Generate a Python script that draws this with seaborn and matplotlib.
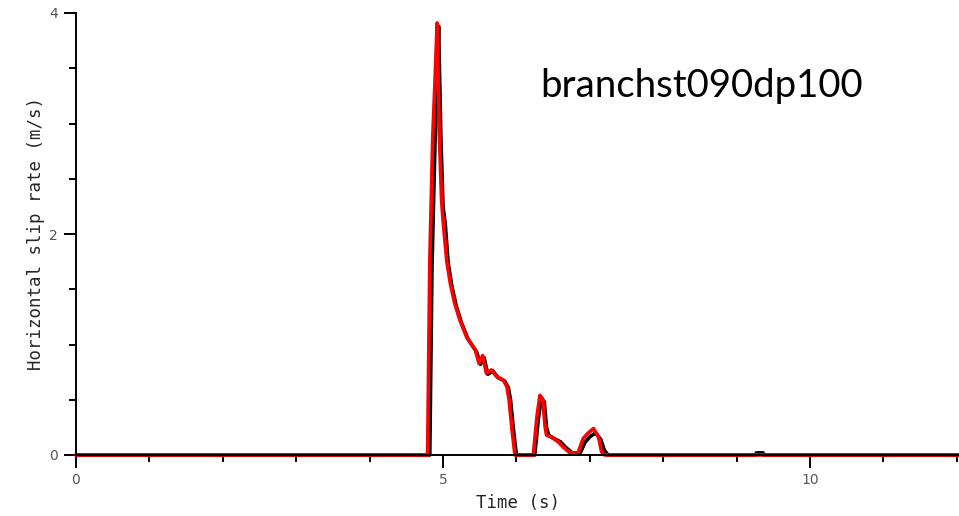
import numpy as np
import pandas as pd
import matplotlib
matplotlib.use("Agg")
import matplotlib.pyplot as plt
import seaborn as sns
from matplotlib.ticker import MultipleLocator

# ---- data ----
t_red = [0.0, 4.79, 4.82, 4.86, 4.89, 4.92, 4.95, 4.98, 5.00, 5.05, 5.10, 5.16, 5.23, 5.32, 5.44,
         5.49, 5.54, 5.59, 5.66, 5.73, 5.82, 5.87, 5.90, 5.94, 5.98, 6.23, 6.28, 6.32, 6.36,
         6.39, 6.41, 6.48, 6.57, 6.64, 6.73, 6.84, 6.91, 6.98, 7.05, 7.12, 7.16, 7.20, 12.03]
v_red = [0.0, 0.0, 1.76, 2.88, 3.37, 3.91, 2.91, 2.31, 2.13, 1.76, 1.55, 1.37, 1.22, 1.07, 0.95,
         0.83, 0.90, 0.74, 0.77, 0.71, 0.68, 0.62, 0.50, 0.23, 0.0, 0.0, 0.35, 0.54, 0.50,
         0.26, 0.18, 0.16, 0.12, 0.07, 0.02, 0.02, 0.15, 0.20, 0.24, 0.16, 0.03, 0.0, 0.0]

t_black = [0.0, 4.82, 4.85, 4.89, 4.92, 4.94, 4.97, 5.00, 5.03, 5.07, 5.12, 5.18, 5.25, 5.34, 5.46,
           5.51, 5.56, 5.61, 5.68, 5.75, 5.84, 5.89, 5.92, 5.96, 6.00, 6.25, 6.30, 6.34, 6.38,
           6.41, 6.44, 6.51, 6.60, 6.67, 6.76, 6.87, 6.94, 7.01, 7.08, 7.15, 7.20, 7.25,
           9.26, 9.27, 9.36, 9.37, 12.03]
v_black = [0.0, 0.0, 1.70, 2.80, 3.30, 3.88, 2.90, 2.25, 2.10, 1.74, 1.53, 1.35, 1.20, 1.05, 0.93,
           0.82, 0.88, 0.73, 0.76, 0.70, 0.67, 0.61, 0.50, 0.23, 0.0, 0.0, 0.33, 0.52, 0.48,
           0.25, 0.18, 0.15, 0.12, 0.07, 0.02, 0.02, 0.12, 0.17, 0.20, 0.14, 0.04, 0.0,
           0.0, 0.02, 0.02, 0.0, 0.0]

title_text = "branchst090dp100"
x_label = "Time (s)"
y_label = "Horizontal slip rate (m/s)"

df_red = pd.DataFrame({"t": t_red, "v": v_red})
df_black = pd.DataFrame({"t": t_black, "v": v_black})

sns.set_style("ticks")
plt.rcParams["font.family"] = ["DejaVu Sans"]

fig = plt.figure(figsize=(9.59, 5.16), dpi=100)
ax = fig.add_axes([76/959, 1 - 455/516, 1 - 76/959, (455 - 13)/516])

sns.lineplot(data=df_black, x="t", y="v", ax=ax, color="black", linewidth=2.6, clip_on=False)
sns.lineplot(data=df_red, x="t", y="v", ax=ax, color="#ff0000", linewidth=2.6, clip_on=False)

ax.set_xlim(0, 12.03)
ax.set_ylim(0, 4)
ax.xaxis.set_major_locator(MultipleLocator(5))
ax.xaxis.set_minor_locator(MultipleLocator(1))
ax.yaxis.set_major_locator(MultipleLocator(2))
ax.yaxis.set_minor_locator(MultipleLocator(0.5))
ax.tick_params(which="major", length=9, width=1.4, color="black", direction="out",
               labelsize=10, labelcolor="#555555", pad=4)
ax.tick_params(which="minor", length=5, width=1.4, color="black", direction="out")
for lab in ax.get_xticklabels() + ax.get_yticklabels():
    lab.set_family("Liberation Sans Narrow")
for s in ["top", "right"]:
    ax.spines[s].set_visible(False)
for s in ["left", "bottom"]:
    ax.spines[s].set_linewidth(1.4)
    ax.spines[s].set_color("black")

ax.set_xlabel(x_label, family="DejaVu Sans Mono", fontsize=12.5, labelpad=5)
ax.set_ylabel(y_label, family="DejaVu Sans Mono", fontsize=12.5, labelpad=3)

fig.text(540/959, 1 - 97/516, title_text, family="Lato", fontsize=27.6, color="black",
         ha="left", va="baseline")

fig.savefig("out.png", dpi=100)
